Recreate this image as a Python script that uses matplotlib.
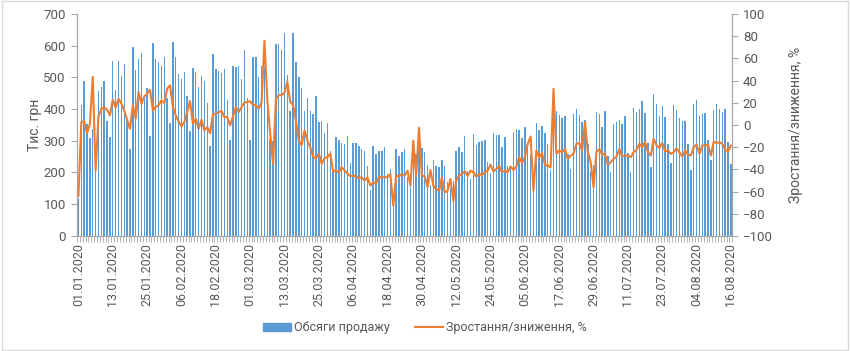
import numpy as np
import pandas as pd
import matplotlib
matplotlib.use("Agg")
from matplotlib import pyplot as plt
from matplotlib.patches import Rectangle
from matplotlib.lines import Line2D

plt.rcParams['font.family'] = ['Roboto', 'DejaVu Sans']

# daily sales, thousand UAH (01.01.2020 - 16.08.2020)
sales = [120, 414, 489, 354, 310, 338, 205, 457, 471, 489, 362, 312, 552, 460, 552, 504, 541, 366, 275, 597,
         522, 557, 576, 434, 467, 315, 610, 557, 549, 535, 563, 436, 356,
         612, 563, 510, 496, 516, 440, 330, 529, 516, 470, 503, 489, 420, 285, 573, 528, 520, 515, 525, 430,
         303, 535, 533, 535, 496, 585, 436, 304, 565, 563, 502, 535,
         533, 407, 305, 300, 604, 607, 585, 641, 507, 394, 641, 548, 500, 467, 394, 436, 394, 383, 440, 359,
         361, 324, 356, 267, 202, 312, 303, 293, 290, 316, 229, 293, 294,
         285, 275, 269, 222, 146, 285, 257, 269, 269, 280, 195, 211, 111, 275, 251, 266, 275, 185, 153, 280,
         259, 290, 278, 266, 225, 160, 240, 222, 216, 240, 222, 170, 150,
         172, 269, 282, 264, 314, 206, 180, 320, 287, 296, 298, 303, 234, 198, 326, 319, 317, 280, 312, 219,
         210, 327, 338, 333, 308, 345, 290, 256, 170, 356, 335, 348, 326,
         290, 209, 390, 393, 380, 372, 377, 259, 211, 383, 401, 380, 359, 367, 290, 201, 225, 391, 385, 343,
         393, 253, 203, 354, 358, 367, 352, 377, 260, 203, 403, 391, 399,
         425, 388, 293, 216, 447, 417, 378, 409, 375, 290, 229, 414, 396, 372, 364, 364, 290, 208, 417, 428,
         377, 383, 388, 301, 238, 396, 417, 399, 390, 401, 296, 227]

# growth / decline, %
growth = [-63.8, 2.6, 3.5, -7.4, 1.1, 43.3, -41.2, 7.7, 14.6, 15.6, 13.7, 8.6, 22.8, 15.6, 23.7, 19.2, 13.1,
          4.7, -3.5, 17.7, 5.6, 29.7, 19.2, 25.8, 28.2, 31.8, 13.1, 16.2, 17.7, 22.2, 19.8, 32.7, 35.8,
          16.2, 8.6, 3.2, -1.3, 2.6, 11.6, 21.6, 1.1, 5.6, -3.5, 4.7, -5.0, -1.9, -7.4, 9.5, 10.1, 11.6, 12.5,
          7.1, 7.1, -0.4, 7.7, 16.2, 11.6, 16.2, 20.1, 20.7, 21.3, 18.3, 17.7, 14.6, 20.7,
          75.9, 22, -7.6, -35, 23, 27, 27, 29, 39, 21, 18, 4, -14, -18, -5, -14, -20, -29, -30, -26, -35,
          -30, -29, -26, -42, -41, -43, -38, -41, -44, -46, -46, -46,
          -48.1, -47.2, -50.2, -47.2, -54.7, -51.7, -52.6, -47.2, -47.2, -47.2, -47.2, -44.2, -72.8, -45.7,
          -46.3, -44.2, -45.7, -41.2, -54.7, -14, -45.7, -2.5, -45.7, -46.3, -56.3, -40.6, -54.7, -57.8,
          -59.3, -47.2, -60.8, -59.3, -48.7,
          -68.3, -50.2, -45.7, -44.2, -41.8, -46, -41.2, -42.7, -46.6, -44.2, -45.1, -42.7, -41.2, -35.7,
          -41.8, -39.7, -36.9, -42.7, -41.2, -42.7, -37.5, -40.6, -37.5, -29.1, -34.2, -29.1, -17, -10.4,
          -59.3, -23.1, -29.1, -25.5, -35.7,
          -36.6, -38.2, 32.7, -26.1, -23.1, -24.6, -21.6, -30.6, -27.6, -26.1, -17, -16.4, -23.1, 2.6, -24.6,
          -33.6, -56.3, -24.6, -21.6, -26.7, -26.1, -36, -33.6, -30.6, -28.5, -21.6, -28.5, -27.6, -27.6,
          -29.1, -24.6, -22.5, -17,
          -20, -15.5, -24.6, -27.6, -12.5, -18.5, -20.7, -16.1, -23.7, -23.1, -26.1, -24.6, -21, -24.6, -28.5,
          -23.1, -26.7, -27.6, -20, -17.6, -26.1, -18.5, -18.5, -17.9, -27.6, -14.9, -16.4, -15.5, -17, -22.5,
          -23.7, -18.5]

dates = pd.date_range("2020-01-01", periods=len(sales), freq="D")
date_labels = [d.strftime("%d.%m.%Y") for d in dates]

bar_name = "Обсяги продажу"
line_name = "Зростання/зниження, %"
left_title = "Тис. грн"

blue = "#5B9BD5"
orange = "#ED7D31"
grey = "#595959"
axis_grey = "#A6A6A6"

fig = plt.figure(figsize=(8.5, 3.51), dpi=100)
ax = fig.add_axes([0.0906, 0.328, 0.771, 0.632])
x = np.arange(len(sales))
ax.bar(x, sales, width=0.5, color=blue, zorder=2)
ax.set_xlim(-0.5, len(sales) - 0.5)
ax.set_ylim(0, 700)
ax.set_yticks(range(0, 701, 100))

ax2 = ax.twinx()
ax2.plot(x, growth, color=orange, linewidth=1.5, zorder=3)
ax2.set_ylim(-100, 100)
ax2.set_yticks(range(-100, 101, 20))

ax.set_xticks(x[::12])
ax.set_xticklabels(date_labels[::12], rotation=90)
ax.set_xticks(np.arange(-0.5, len(sales)), minor=True)
ax.tick_params(axis='x', which='major', length=0, pad=5, labelsize=9, labelcolor=grey)
ax.tick_params(axis='x', which='minor', length=4, color=axis_grey, width=0.6)
ax.tick_params(axis='y', length=4, color=axis_grey, labelsize=9.5, labelcolor=grey, pad=4)
ax2.tick_params(axis='y', length=4, color=axis_grey, labelsize=9.5, labelcolor=grey)

for a in (ax, ax2):
    a.spines['top'].set_visible(False)
    for s in ('left', 'right', 'bottom'):
        a.spines[s].set_color(axis_grey)
        a.spines[s].set_linewidth(0.8)

ax.set_ylabel(left_title, fontsize=10, color=grey, labelpad=1)
ax2.set_ylabel(line_name, fontsize=10, color=grey, labelpad=12)

handles = [Rectangle((0, 0), 1, 1, color=blue), Line2D([0], [0], color=orange, linewidth=1.5)]
fig.legend(handles, [bar_name, line_name], loc='center', bbox_to_anchor=(0.5, 0.066), ncol=2,
           frameon=False, fontsize=9, labelcolor=grey, handlelength=2.2, columnspacing=2.0,
           handletextpad=0.3)

fig.patches.append(Rectangle((0.002, 0.004), 0.996, 0.992, transform=fig.transFigure, fill=False,
                             edgecolor="#D9D9D9", linewidth=1))

fig.savefig("out.png", dpi=100, facecolor="white")
